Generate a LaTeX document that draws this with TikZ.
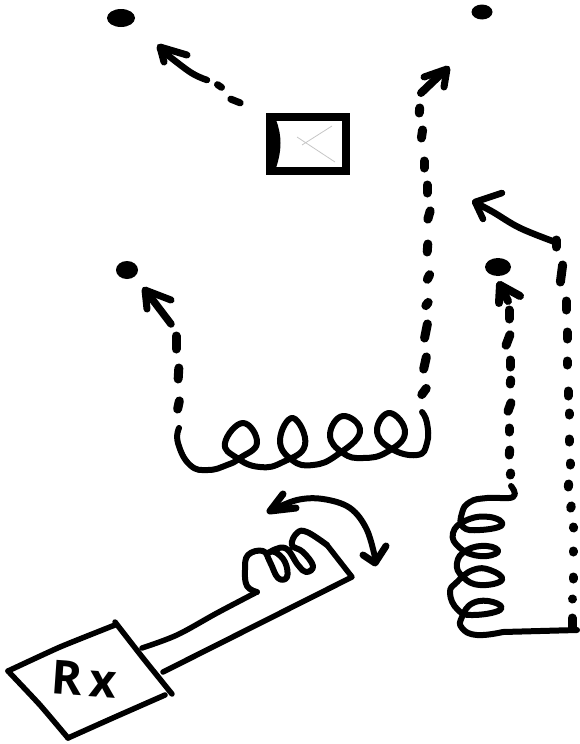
\documentclass[tikz,border=0pt]{standalone}
\usepackage{fontspec}
\setmainfont{Open Sans}
\tikzset{
  ink/.style={line width=#1,line cap=round,line join=round,black},
  ink/.default=5.5pt,
  dashmark/.style={line width=9pt,line cap=round,black,shorten >=3pt,shorten <=3pt},
  spot/.style={fill=black,draw=none},
}
\begin{document}
\begin{tikzpicture}[x=1pt,y=-1pt]
\useasboundingbox (0,0) rectangle (579,744);
% target dots
\fill[spot] (121,18) ellipse (14 and 9);
\fill[spot] (482,12) ellipse (10.5 and 7.5);
\fill[spot] (127,270) ellipse (11 and 9);
\fill[spot] (498,267) ellipse (13 and 9);
% reflector square
\draw[ink=8pt,line cap=butt,line join=miter] (270,117) rectangle (346,171);
\fill (268,120) -- (276,120) .. controls (282,135) and (282,150) .. (276,168) -- (268,168) -- cycle;
\draw[gray!45,line width=0.8pt] (302,145) -- (332,126) (297,137) -- (335,162);
% top left path
\foreach \a/\b in {{215,83}/{224,89},{228,98}/{243,104}}
  \draw[dashmark,line width=7pt] (\a) -- (\b);
\draw[ink=6.5pt] plot[smooth,tension=0.6] coordinates {(207,80) (190,72) (160,49)};
\draw[ink=7pt] (187,55) -- (160,47) -- (164,62);
% centre path to top right
\foreach \a/\b in {{420,105}/{419,116},{423,127}/{421,141},{424,158}/{424,171},{427,182}/{427,196},{431,208}/{427,222},{428,241}/{427,255},{431,272}/{426,282},{430,300}/{424,308},{428,321}/{424,341},{427,354}/{423,372},{428,386}/{420,397}}
  \draw[dashmark] (\a) -- (\b);
\draw[ink=8pt] (421,93) -- (444,71);
\draw[ink=7pt] (424,77) -- (447,69) -- (444,87);
% left path
\foreach \a/\b in {{176,333}/{176,352},{179,365}/{178,382},{180,398}/{177,412}}
  \draw[dashmark] (\a) -- (\b);
\draw[ink=7.5pt] (171,324) -- (149,295);
\draw[ink=7pt] (171,300) -- (145,290) -- (147,309);
% horizontal coil
\draw[ink=6pt] plot[smooth,tension=0.8] coordinates {(179,428) (178,443) (190,465) (208,470) (227,465) (240,458) (257,443) (243,423) (225,443) (237,458) (260,467) (283,462) (305,445) (293,418) (280,440) (292,460) (313,465) (337,455) (360,432) (343,416) (330,435) (343,453) (363,458) (387,452) (405,433) (390,413) (377,430) (390,448) (417,455) (427,443) (427,423) (422,412)};
% right inner path
\foreach \a/\b in {{509,307}/{509,322},{511,332}/{505,348},{510,357}/{510,370},{511,377}/{510,387},{512,400}/{507,414},{509,425}/{509,435},{510,447}/{509,458},{511,470}/{510,478}}
  \draw[dashmark] (\a) -- (\b);
\draw[ink=8pt] (520,296) -- (500,285) -- (499,303);
\draw[ink=8pt] (500,285) -- (508,301);
% right outer path
\foreach \a/\b in {{556,237}/{556,250},{563,262}/{560,285},{566,298}/{566,313},{567,329}/{567,342},{567,358}/{567,368},{568,388}/{568,399},{569,410}/{569,418},{569,436}/{569,445},{570,460}/{570,468},{569,481}/{568,490},{572,503}/{570,511},{573,524}/{574,531},{573,548}/{573,555},{573,574}/{573,582},{573,596}/{572,602},{572,615}/{572,630}}
  \draw[dashmark] (\a) -- (\b);
\draw[ink=6.5pt] plot[smooth,tension=0.6] coordinates {(555,242) (520,228) (493,212) (476,203)};
\draw[ink=6.5pt] (502,193) -- (475,202) -- (483,219);
% vertical coil
\draw[ink=6pt] plot[smooth,tension=0.8] coordinates {(511,486) (513,497) (487,498) (470,502) (462,513) (463,527) (480,530) (502,525) (490,517) (467,520) (453,533) (460,548) (480,556) (498,552) (487,546) (467,550) (457,563) (463,577) (480,585) (502,580) (490,570) (473,570) (457,582) (450,593) (458,610) (473,615) (500,610) (493,602) (473,603) (462,617) (462,628) (477,635) (503,632)};
\draw[ink=6pt] (503,632) -- (577,630);
% rocking arrow
\draw[ink=6pt] plot[smooth,tension=0.6] coordinates {(270,511) (297,500) (323,499) (350,508) (367,530) (376,562)};
\draw[ink=7pt] (283,494) -- (270,511) -- (296,508);
\draw[ink=7pt] (363,555) -- (375,563) -- (386,546);
% small coil and leads
\draw[ink=5.5pt] plot[smooth,tension=0.55] coordinates {(142,648) (177,635) (217,613) (257,592)};
\draw[ink=6pt] plot[smooth,tension=0.7] coordinates {(257,592) (247,586) (245,570) (248,555) (263,551) (270,562) (278,578) (287,577) (285,562) (275,552) (268,553) (285,548) (298,565) (306,572) (313,566) (303,552) (292,545) (297,533) (307,532) (327,545)};
\draw[ink=5.5pt] (327,545) -- (352,577) -- (163,672);
% receiver box
\draw[ink=5.5pt] plot[smooth,tension=0.3] coordinates {(8,671) (60,647) (115,625)};
\draw[ink=5.5pt] plot[smooth,tension=0.3] coordinates {(115,622) (143,658) (172,694)};
\draw[ink=5.5pt] plot[smooth,tension=0.3] coordinates {(165,695) (115,717) (68,738)};
\draw[ink=5.5pt] plot[smooth,tension=0.3] coordinates {(8,671) (40,705) (68,738)};
\node[rotate=-4,font=\fontsize{47}{47}\selectfont\bfseries,inner sep=0pt] (rx) at (84,679) {R\kern7pt x};
\end{tikzpicture}
\end{document}
